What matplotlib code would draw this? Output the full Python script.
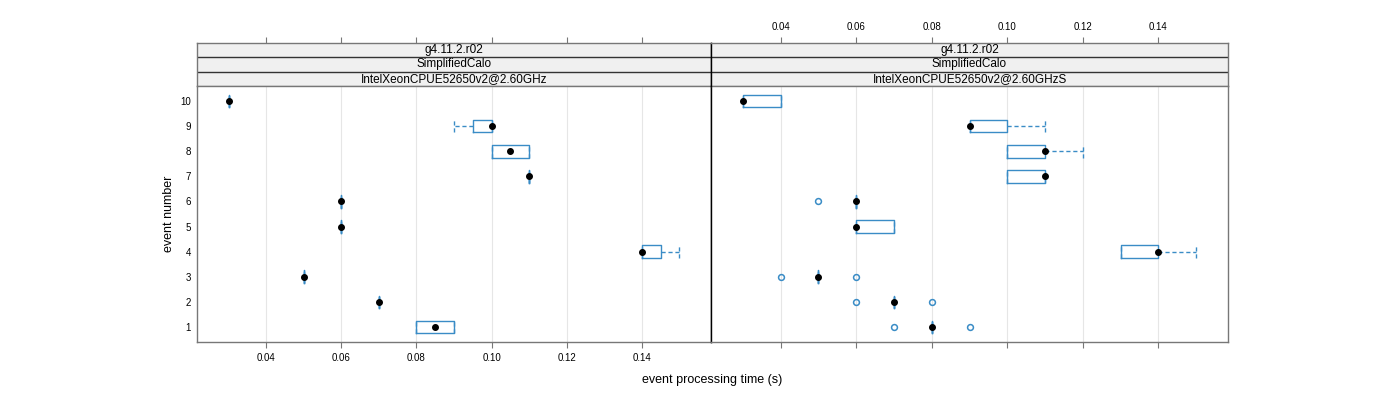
import matplotlib
matplotlib.use("Agg")
import matplotlib.pyplot as plt
import numpy as np

plt.rcParams['font.family'] = ['Liberation Sans', 'DejaVu Sans']

events = [1, 2, 3, 4, 5, 6, 7, 8, 9, 10]
strip_version = "g4.11.2.r02"
strip_test = "SimplifiedCalo"
panel_names = ["IntelXeonCPUE52650v2@2.60GHz", "IntelXeonCPUE52650v2@2.60GHzS"]

# left panel (GHz)
left_med = [0.085, 0.07, 0.05, 0.14, 0.06, 0.06, 0.11, 0.105, 0.10, 0.03]
left_q1 = [0.08, 0.07, 0.05, 0.14, 0.06, 0.06, 0.11, 0.10, 0.095, 0.03]
left_q3 = [0.09, 0.07, 0.05, 0.145, 0.06, 0.06, 0.11, 0.11, 0.10, 0.03]
left_wlo = [0.08, 0.07, 0.05, 0.14, 0.06, 0.06, 0.11, 0.10, 0.09, 0.03]
left_whi = [0.09, 0.07, 0.05, 0.15, 0.06, 0.06, 0.11, 0.11, 0.10, 0.03]
left_out = [[], [], [], [], [], [], [], [], [], []]

# right panel (GHzS)
right_med = [0.08, 0.07, 0.05, 0.14, 0.06, 0.06, 0.11, 0.11, 0.09, 0.03]
right_q1 = [0.08, 0.07, 0.05, 0.13, 0.06, 0.06, 0.10, 0.10, 0.09, 0.03]
right_q3 = [0.08, 0.07, 0.05, 0.14, 0.07, 0.06, 0.11, 0.11, 0.10, 0.04]
right_wlo = [0.08, 0.07, 0.05, 0.13, 0.06, 0.06, 0.10, 0.10, 0.09, 0.03]
right_whi = [0.08, 0.07, 0.05, 0.15, 0.07, 0.06, 0.11, 0.12, 0.11, 0.04]
right_out = [[0.07, 0.09], [0.06, 0.08], [0.04, 0.06], [], [], [0.05], [], [], [], []]

xticks = [0.04, 0.06, 0.08, 0.10, 0.12, 0.14]
xticklabels = ["0.04", "0.06", "0.08", "0.10", "0.12", "0.14"]

BLUE = "#3a8cc6"
FRAME = "#777777"
xlim = (0.0216, 0.1584)
ylim = (0.4, 10.6)

fig = plt.figure(figsize=(14, 4), dpi=100)
W, H = 1400.0, 400.0
py0, py1 = 342, 86   # plot area pixel rows
sy0 = 43             # strip top
panels_px = [(197, 711), (711, 1228)]

data = [
    (left_med, left_q1, left_q3, left_wlo, left_whi, left_out),
    (right_med, right_q1, right_q3, right_wlo, right_whi, right_out),
]

for i, ((x0, x1), (med, q1, q3, wlo, whi, out)) in enumerate(zip(panels_px, data)):
    ax = fig.add_axes([x0 / W, 1 - py0 / H, (x1 - x0) / W, (py0 - py1) / H])
    stats = []
    for k in range(len(events)):
        stats.append(dict(med=med[k], q1=q1[k], q3=q3[k], whislo=wlo[k],
                          whishi=whi[k], fliers=out[k]))
    ax.bxp(stats, positions=events, orientation='horizontal', widths=0.5,
           capwidths=0.5, showfliers=True, manage_ticks=False,
           boxprops=dict(color=BLUE, linewidth=1.0),
           whiskerprops=dict(color=BLUE, linewidth=1.0, linestyle=(0, (3, 2))),
           capprops=dict(color=BLUE, linewidth=1.0, linestyle=(0, (3, 2))),
           medianprops=dict(linestyle='none'),
           flierprops=dict(marker='o', markerfacecolor='none',
                           markeredgecolor=BLUE, markersize=4.2,
                           markeredgewidth=1.1, linestyle='none'))
    ax.plot(med, events, 'o', color='black', markersize=4.0, linestyle='none',
            zorder=5)
    ax.set_xlim(*xlim)
    ax.set_ylim(*ylim)
    for xt in xticks:
        ax.axvline(xt, color='#e6e6e6', linewidth=0.8, zorder=0)
    for s in ax.spines.values():
        s.set_color(FRAME)
        s.set_linewidth(1.0)
    ax.set_xticks(xticks)
    if i == 0:
        ax.set_xticklabels(xticklabels)
        ax.tick_params(axis='x', direction='out', length=4, width=0.8,
                       colors=FRAME, labelcolor='black', labelsize=7, pad=4)
        ax.set_yticks(events)
        ax.set_yticklabels([str(e) for e in events])
        ax.tick_params(axis='y', length=0, labelsize=7, pad=4.5)
        ax.set_ylabel("event number", fontsize=9)
        ax.yaxis.set_label_coords((175 - x0) / (x1 - x0), 0.5)
        ax.spines['right'].set_color('black')
    else:
        ax.set_xticklabels([])
        ax.tick_params(axis='x', direction='out', length=4, width=0.8,
                       colors=FRAME)
        ax.set_yticks([])
        ax.spines['left'].set_color('black')

    # strips
    sax = fig.add_axes([x0 / W, 1 - py1 / H, (x1 - x0) / W, (py1 - sy0) / H])
    sax.set_xlim(*xlim)
    sax.set_ylim(0, 3)
    labels = [strip_version, strip_test, panel_names[i]]
    for j, lab in enumerate(labels):
        yb = 2 - j
        sax.axhspan(yb, yb + 1, color='#f0f0f0', zorder=0)
        sax.text(np.mean(xlim), yb + 0.5, lab, ha='center', va='center',
                 fontsize=8.5, color='black')
        if j > 0:
            sax.axhline(yb + 1, color='#333333', linewidth=1.0)
    sax.axhline(0, color='#333333', linewidth=1.0)
    for s in sax.spines.values():
        s.set_color(FRAME)
        s.set_linewidth(1.0)
    sax.spines['bottom'].set_visible(False)
    if i == 0:
        sax.spines['right'].set_color('black')
    else:
        sax.spines['left'].set_color('black')
    sax.set_yticks([])
    sax.xaxis.set_ticks_position('top')
    sax.set_xticks(xticks)
    if i == 1:
        sax.set_xticklabels(xticklabels)
        sax.tick_params(axis='x', direction='out', length=4, width=0.8,
                        colors=FRAME, labelcolor='black', labelsize=7, pad=4)
    else:
        sax.set_xticklabels([])
        sax.tick_params(axis='x', direction='out', length=4, width=0.8,
                        colors=FRAME)

fig.text(712 / W, 1 - 380 / H, "event processing time (s)", ha='center',
         va='center', fontsize=9)

fig.savefig("out.png", dpi=100)
